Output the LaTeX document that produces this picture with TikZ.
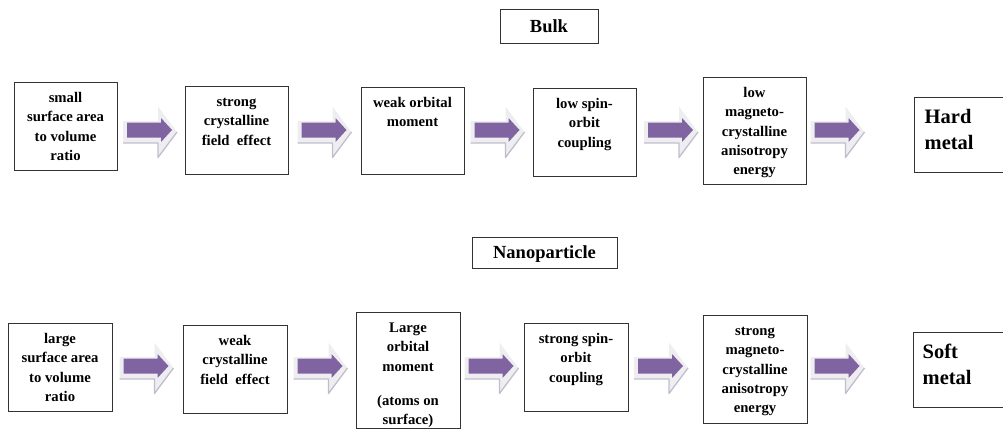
\documentclass[tikz,border=0pt]{standalone}
\usepackage{fontspec}
\setmainfont{Liberation Serif}
\definecolor{arrpurple}{HTML}{8064A2}
\definecolor{arrlight}{HTML}{EEEEF1}
\definecolor{arredge}{HTML}{C3BCCF}
\begin{document}
\begin{tikzpicture}[x=1pt,y=-1pt,
  box/.style={draw=black!80, line width=1pt, rectangle, inner sep=0pt, fill=white},
  boxtxt/.style={font=\fontsize{14.7}{19.4}\selectfont\bfseries, align=center, anchor=north, inner sep=0pt},
  endtxt/.style={font=\fontsize{20.5}{26.5}\selectfont\bfseries, align=left, anchor=north west, inner sep=0pt},
  titlebox/.style={box, font=\fontsize{18.5}{22}\selectfont\bfseries, text depth=0pt},
  blockarrow/.pic={
    \fill[arrlight] (-27,-11) -- (8,-11) -- (8,-25.5) -- (27,0) -- (8,25.5) -- (8,11) -- (-27,11) -- cycle;
    \draw[arredge, line width=1.3pt, line join=round] (-27,11) -- (8,11) -- (8,25.5) -- (27,0);
    \fill[arrpurple] (-23,-9.5) -- (11,-9.5) -- (11,-14) -- (22,-2) -- (11,10) -- (11,5.5) -- (-23,5.5) -- cycle;
  }]
\useasboundingbox (0,0) rectangle (1003,431);

% titles
\node[titlebox, minimum width=98pt, minimum height=34pt] (bulk) at (549,26) {Bulk};
\node[titlebox, minimum width=145pt, minimum height=31pt] (nano) at (544.5,252.5) {Nanoparticle};

% top row boxes
\node[box, minimum width=103pt, minimum height=88pt] (t1) at (65.5,126) {};
\node[box, minimum width=103pt, minimum height=88pt] (t2) at (236.5,130) {};
\node[box, minimum width=103pt, minimum height=87pt] (t3) at (412.5,130.5) {};
\node[box, minimum width=103pt, minimum height=88pt] (t4) at (584.5,132) {};
\node[box, minimum width=103pt, minimum height=107pt] (t5) at (754.5,130.5) {};
\node[box, minimum width=110pt, minimum height=75pt] (hard) at (969,134.5) {};

\node[boxtxt] (t1l) at ([yshift=-7pt]t1.north) {\strut small\\surface area\\to volume\\ratio};
\node[boxtxt] (t2l) at ([yshift=-7pt]t2.north) {\strut strong\\crystalline\\field\ \ effect};
\node[boxtxt] (t3l) at ([yshift=-7pt]t3.north) {\strut weak orbital\\moment};
\node[boxtxt] (t4l) at ([yshift=-7pt]t4.north) {\strut low spin-\\orbit\\coupling};
\node[boxtxt] (t5l) at ([yshift=-7pt]t5.north) {\strut low\\magneto-\\crystalline\\anisotropy\\energy};
\node[endtxt] (hardl) at ([xshift=11pt,yshift=-8pt]hard.north west) {\strut Hard\\metal};

% bottom row boxes
\node[box, minimum width=104pt, minimum height=88pt] (b1) at (60,367) {};
\node[box, minimum width=104pt, minimum height=88pt] (b2) at (235,369) {};
\node[box, minimum width=104pt, minimum height=116pt] (b3) at (408,370) {};
\node[box, minimum width=104pt, minimum height=88pt] (b4) at (576,367) {};
\node[box, minimum width=104pt, minimum height=108pt] (b5) at (755,369) {};
\node[box, minimum width=110pt, minimum height=75pt] (soft) at (968,369.5) {};

\node[boxtxt] (b1l) at ([yshift=-7pt]b1.north) {\strut large\\surface area\\to volume\\ratio};
\node[boxtxt] (b2l) at ([yshift=-7pt]b2.north) {\strut weak\\crystalline\\field\ \ effect};
\node[boxtxt] (b3l) at ([yshift=-7pt]b3.north) {\strut Large\\orbital\\moment\\[14.6pt](atoms on\\surface)};
\node[boxtxt] (b4l) at ([yshift=-7pt]b4.north) {\strut strong spin-\\orbit\\coupling};
\node[boxtxt] (b5l) at ([yshift=-7pt]b5.north) {\strut strong\\magneto-\\crystalline\\anisotropy\\energy};
\node[endtxt] (softl) at ([xshift=10pt,yshift=-8pt]soft.north west) {\strut Soft\\metal};

% block arrows, top row
\coordinate (ta1) at (150,132);
\coordinate (ta2) at (324.5,132);
\coordinate (ta3) at (497.5,132);
\coordinate (ta4) at (671,132);
\coordinate (ta5) at (837.5,132);
\foreach \c in {ta1,ta2,ta3,ta4,ta5} \pic at (\c) {blockarrow};

% block arrows, bottom row
\coordinate (ba1) at (146.5,368);
\coordinate (ba2) at (320.5,368);
\coordinate (ba3) at (491.5,368);
\coordinate (ba4) at (661,368);
\coordinate (ba5) at (837.5,368);
\foreach \c in {ba1,ba2,ba3,ba4,ba5} \pic at (\c) {blockarrow};
\end{tikzpicture}
\end{document}
